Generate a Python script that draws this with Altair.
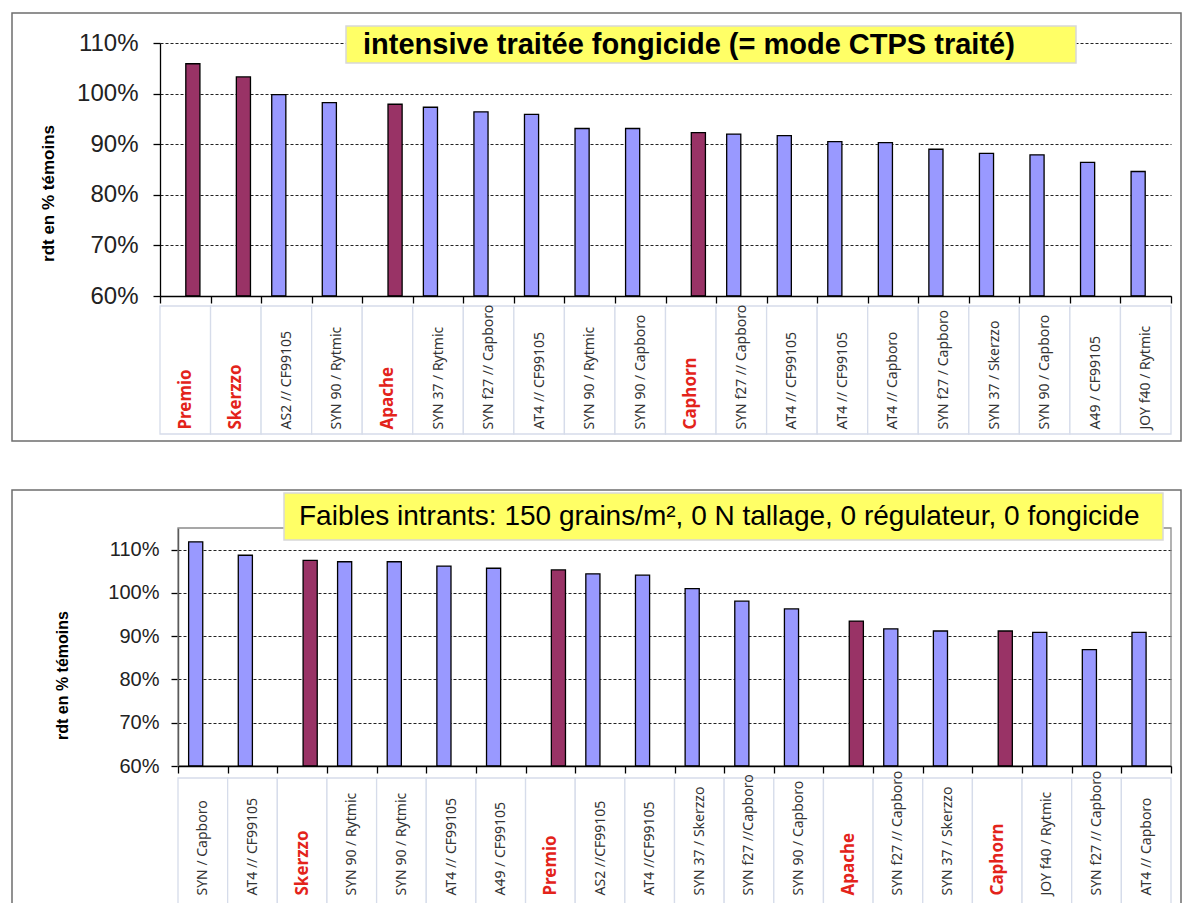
import json
import altair as alt
import pandas as pd

# ---------------- data ----------------
REF_VARIETIES = ["Premio", "Skerzzo", "Apache", "Caphorn"]

top_title = "intensive traitée fongicide  (= mode CTPS traité)"
top_labels = [
    "Premio", "Skerzzo", "AS2 // CF99105", "SYN 90 / Rytmic", "Apache",
    "SYN 37 / Rytmic", "SYN f27 // Capboro", "AT4 // CF99105", "SYN 90 / Rytmic",
    "SYN 90 / Capboro", "Caphorn", "SYN f27 // Capboro", "AT4 // CF99105",
    "AT4 // CF99105", "AT4 // Capboro", "SYN f27 / Capboro", "SYN 37 / Skerzzo",
    "SYN 90 / Capboro", "A49 / CF99105", "JOY f40 / Rytmic",
]
top_values = [105.9, 103.3, 99.8, 98.2, 97.9, 97.3, 96.4, 95.9, 93.1, 93.1,
              92.3, 92.0, 91.7, 90.5, 90.3, 89.0, 88.2, 87.9, 86.4, 84.6]

bottom_title = "Faibles intrants: 150 grains/m², 0 N tallage, 0 régulateur, 0 fongicide"
bottom_labels = [
    "SYN / Capboro", "AT4 // CF99105", "Skerzzo", "SYN 90 / Rytmic", "SYN 90 / Rytmic",
    "AT4 // CF99105", "A49 / CF99105", "Premio", "AS2 //CF99105", "AT4 //CF99105",
    "SYN 37 / Skerzzo", "SYN f27 //Capboro", "SYN 90 / Capboro", "Apache",
    "SYN f27 // Capboro", "SYN 37 / Skerzzo", "Caphorn", "JOY f40 / Rytmic",
    "SYN f27 // Capboro", "AT4 // Capboro",
]
bottom_values = [111.8, 108.7, 107.5, 107.2, 107.2, 106.2, 105.7, 105.3, 104.4, 104.1,
                 101.0, 98.1, 96.3, 93.5, 91.7, 91.2, 91.2, 90.9, 86.9, 90.9]

y_ticks = [60, 70, 80, 90, 100, 110]
y_title = "rdt en % témoins"

BLUE = "#9999FF"
PLUM = "#993366"
RED_TXT = "#E3231B"
GREY_TXT = "#333333"


def panel(labels, values, title, g):
    n = len(labels)
    df = pd.DataFrame({
        "idx": list(range(n)),
        "label": labels,
        "value": values,
        "series": ["ref" if l in REF_VARIETIES else "std" for l in labels],
    })
    one = pd.DataFrame({"k": [0]})
    W, H = g["W"], g["H"]
    x0, y0 = g["x0"], g["y0"]          # left / top of the data rectangle inside the view
    red_idx = [i for i, l in enumerate(labels) if l in REF_VARIETIES]
    test = f"indexof({json.dumps(red_idx)}, datum.value) >= 0"

    x_enc = alt.X(
        "idx:O",
        scale=alt.Scale(paddingInner=0, paddingOuter=0, range=[x0, W]),
        axis=alt.Axis(
            title=None,
            labelExpr=f"{json.dumps(labels)}[datum.value]",
            labelAngle=270,
            labelAlign="left",
            labelBaseline="middle",
            labelPadding=g["xlabpad"],
            labelLimit=400,
            labelOverlap=False,
            labelBound=False,
            tickBand="extent",
            tickSize=7,
            tickColor="black",
            tickWidth=1.3,
            domainColor="black",
            domainWidth=1.3,
            grid=False,
            zindex=1,
            labelFont="Noto Sans",
            labelColor={"condition": {"test": test, "value": RED_TXT}, "value": GREY_TXT},
            labelFontSize={"condition": {"test": test, "value": 17}, "value": 14},
            labelFontWeight={"condition": {"test": test, "value": "bold"}, "value": "normal"},
        ),
    )
    y_enc = alt.Y(
        "value:Q",
        scale=alt.Scale(domain=g["ydom"], nice=False, zero=False, range=[H, y0]),
        axis=alt.Axis(
            values=y_ticks,
            labelExpr="datum.value + '%'",
            labelFont="Liberation Sans",
            labelFontSize=g["ylabsize"],
            labelColor="#222222",
            labelPadding=g["ylabpad"],
            offset=-x0,
            tickSize=7,
            tickColor="black",
            tickWidth=1.3,
            domainColor="black",
            domainWidth=1.3,
            grid=True,
            gridColor="#222222",
            gridDash=[3, 2],
            gridWidth=1.2,
            title=y_title,
            titleFont="Liberation Sans",
            titleFontSize=g["ytitlesize"],
            titleFontWeight="bold",
            titleColor="black",
            titleAngle=270,
            titleAlign="center",
            titleBaseline="middle",
            titleX=g["titleX"],
            titleY=g["titleY"],
        ),
    )

    layers = []
    layers.append(alt.Chart(one).mark_rect(filled=False, stroke="#6e6e6e", strokeWidth=1.5).encode(
        x=alt.value(g["fx"][0]), x2=alt.value(g["fx"][1]),
        y=alt.value(g["fy"][0]), y2=alt.value(g["fy"][1]),
    ))
    if g.get("viewstroke"):
        layers.append(alt.Chart(one).mark_rect(filled=False, stroke=g["viewstroke"], strokeWidth=1.3).encode(
            x=alt.value(x0), x2=alt.value(W), y=alt.value(y0), y2=alt.value(H),
        ))
    layers.append(alt.Chart(df).mark_rect(fill="white", stroke="#d6dcea", strokeWidth=1.3).encode(
        x=x_enc,
        y=alt.value(H + g["box"][0]), y2=alt.value(H + g["box"][1]),
    ))
    layers.append(alt.Chart(df).mark_bar(stroke="black", strokeWidth=1.3).encode(
        x=x_enc,
        xOffset=alt.XOffset("series:N", scale=alt.Scale(domain=["std", "ref"],
                                                        paddingInner=0.07, paddingOuter=0.7)),
        y=y_enc,
        y2=alt.datum(g["ydom"][0]),
        color=alt.Color("series:N", scale=alt.Scale(domain=["std", "ref"], range=[BLUE, PLUM]),
                        legend=None),
    ))
    layers.append(alt.Chart(one).mark_rect(fill="#FFFF66", stroke="#d8d8d8", strokeWidth=1.5).encode(
        x=alt.value(g["tx"][0]), x2=alt.value(g["tx"][1]),
        y=alt.value(g["ty"][0]), y2=alt.value(g["ty"][1]),
    ))
    layers.append(alt.Chart(one).mark_text(
        font="Liberation Sans", fontSize=g["tsize"], fontWeight=g["tweight"],
        align="left", baseline="middle", color="black",
    ).encode(
        x=alt.value(g["textx"]),
        y=alt.value(g["texty"]),
        text=alt.value(title),
    ))
    return alt.layer(*layers).properties(width=W, height=H)


top_geom = dict(W=1011, H=253, x0=0, y0=0, ydom=[60, 110], ylabsize=24, ylabpad=15,
                ytitlesize=17, titleX=-112, titleY=150, xlabpad=126, box=(10, 138),
                fx=(-148, 1021), fy=(-30, 398), tx=(186, 916), ty=(-17, 20),
                textx=203, texty=1.5, tsize=29, tweight="bold")
bottom_geom = dict(W=1011, H=246, x0=18, y0=8, ydom=[60, 115], ylabsize=20, ylabpad=12,
                   ytitlesize=16, titleX=-116, titleY=155, xlabpad=122, box=(12, 145),
                   fx=(-148, 1021), fy=(-30, 420), tx=(124, 1003), ty=(-27, 20),
                   textx=139, texty=-3, tsize=28, tweight="normal", viewstroke="#8a8a8a")

top = panel(top_labels, top_values, top_title, top_geom)
bottom = panel(bottom_labels, bottom_values, bottom_title, bottom_geom)

chart = alt.vconcat(top, bottom, spacing=47).properties(
    padding={"left": 3, "top": 4, "right": 0, "bottom": 0},
    background="white",
).configure_view(stroke=None)

chart.save("out.html", embed_options={"renderer": "svg", "actions": False})
